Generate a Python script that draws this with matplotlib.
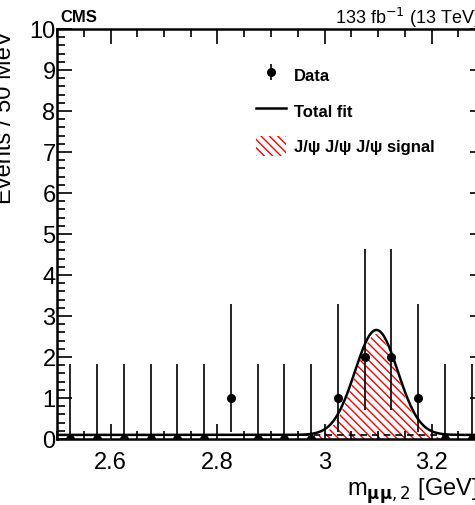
import matplotlib
matplotlib.use("Agg")
import matplotlib.pyplot as plt
import numpy as np
from matplotlib.ticker import MultipleLocator, FormatStrFormatter
from matplotlib.lines import Line2D
from matplotlib.patches import Patch

plt.rcParams['font.family'] = ['Liberation Sans', 'DejaVu Sans']
plt.rcParams['hatch.color'] = 'red'
plt.rcParams['hatch.linewidth'] = 1.0

# binned data, 50 MeV bins
bin_centers = [2.525, 2.575, 2.625, 2.675, 2.725, 2.775, 2.825, 2.875,
               2.925, 2.975, 3.025, 3.075, 3.125, 3.175, 3.225, 3.275]
counts = [0, 0, 0, 0, 0, 0, 1, 0, 0, 0, 1, 2, 2, 1, 0, 0]
# Garwood intervals (lower, upper) per count
err_lo = {0: 0.0, 1: 0.83, 2: 1.29}
err_hi = {0: 1.84, 1: 2.30, 2: 2.64}

# fit shape parameters
bkg_level = 0.1
sig_peak = 2.56
sig_mean = 3.097
sig_width = 0.04

x = np.array(bin_centers)
y = np.array(counts)
lo = np.array([err_lo[c] for c in counts])
hi = np.array([err_hi[c] for c in counts])

m = np.linspace(2.5, 3.3, 600)
sig = sig_peak * np.exp(-0.5 * ((m - sig_mean) / sig_width) ** 2)
total = sig + bkg_level

fig = plt.figure(figsize=(4.75, 5.06), dpi=100)
ax = fig.add_axes([57 / 475, 66 / 506, 428 / 475, 410 / 506])

ax.fill_between(m, 0, sig, facecolor='none', edgecolor='red', hatch='\\\\\\\\', linewidth=0)
ax.plot(m, np.full_like(m, bkg_level), color='black', ls='--', lw=1.2, dashes=(4, 3))
ax.plot(m, total, color='black', lw=1.8)
data = ax.errorbar(x, y, yerr=[lo, hi], fmt='o', color='black', ms=5.5, elinewidth=1.2, capsize=0)

ax.set_xlim(2.5, 3.3)
ax.set_ylim(0, 10)
ax.xaxis.set_major_locator(MultipleLocator(0.2))
ax.xaxis.set_minor_locator(MultipleLocator(0.05))
ax.xaxis.set_major_formatter(FormatStrFormatter('%g'))
ax.yaxis.set_major_locator(MultipleLocator(1))
ax.yaxis.set_minor_locator(MultipleLocator(0.2))
ax.tick_params(which='both', direction='in', top=True, right=True, labelsize=17, width=1.2)
ax.tick_params(which='major', length=11)
ax.tick_params(which='minor', length=6)
ax.tick_params(axis='y', pad=1)
ax.tick_params(axis='x', pad=9)
for s in ax.spines.values():
    s.set_linewidth(1.8)

ax.set_ylabel('Events / 50 MeV', fontsize=17, loc='top')
ax.yaxis.set_label_coords(-0.095, 1.0)
ax.set_xlabel(r'm$_{\mathbf{\mu\mu},2}$ [GeV]', fontsize=17, loc='right')
ax.xaxis.set_label_coords(0.985, -0.088)

fig.text(60 / 475, 1 - 18 / 506, 'CMS', fontsize=12, fontweight='bold', va='center')
fig.text(335 / 475, 1 - 18 / 506, r'133 fb$^{-1}$ (13 TeV)', fontsize=13, va='center')

handles = [
    data,
    Line2D([0], [0], color='black', lw=1.8),
    Patch(facecolor='none', edgecolor='red', hatch='\\\\\\\\', lw=0),
]
labels = ['Data', 'Total fit', 'J/ψ J/ψ J/ψ signal']
leg = ax.legend(handles, labels, loc='upper left', bbox_to_anchor=(0.43, 0.95), frameon=False,
                prop={'weight': 'bold', 'size': 12}, handlelength=1.8, labelspacing=1.0,
                handletextpad=0.5, handleheight=1.4)

fig.savefig('out.png', dpi=100)
